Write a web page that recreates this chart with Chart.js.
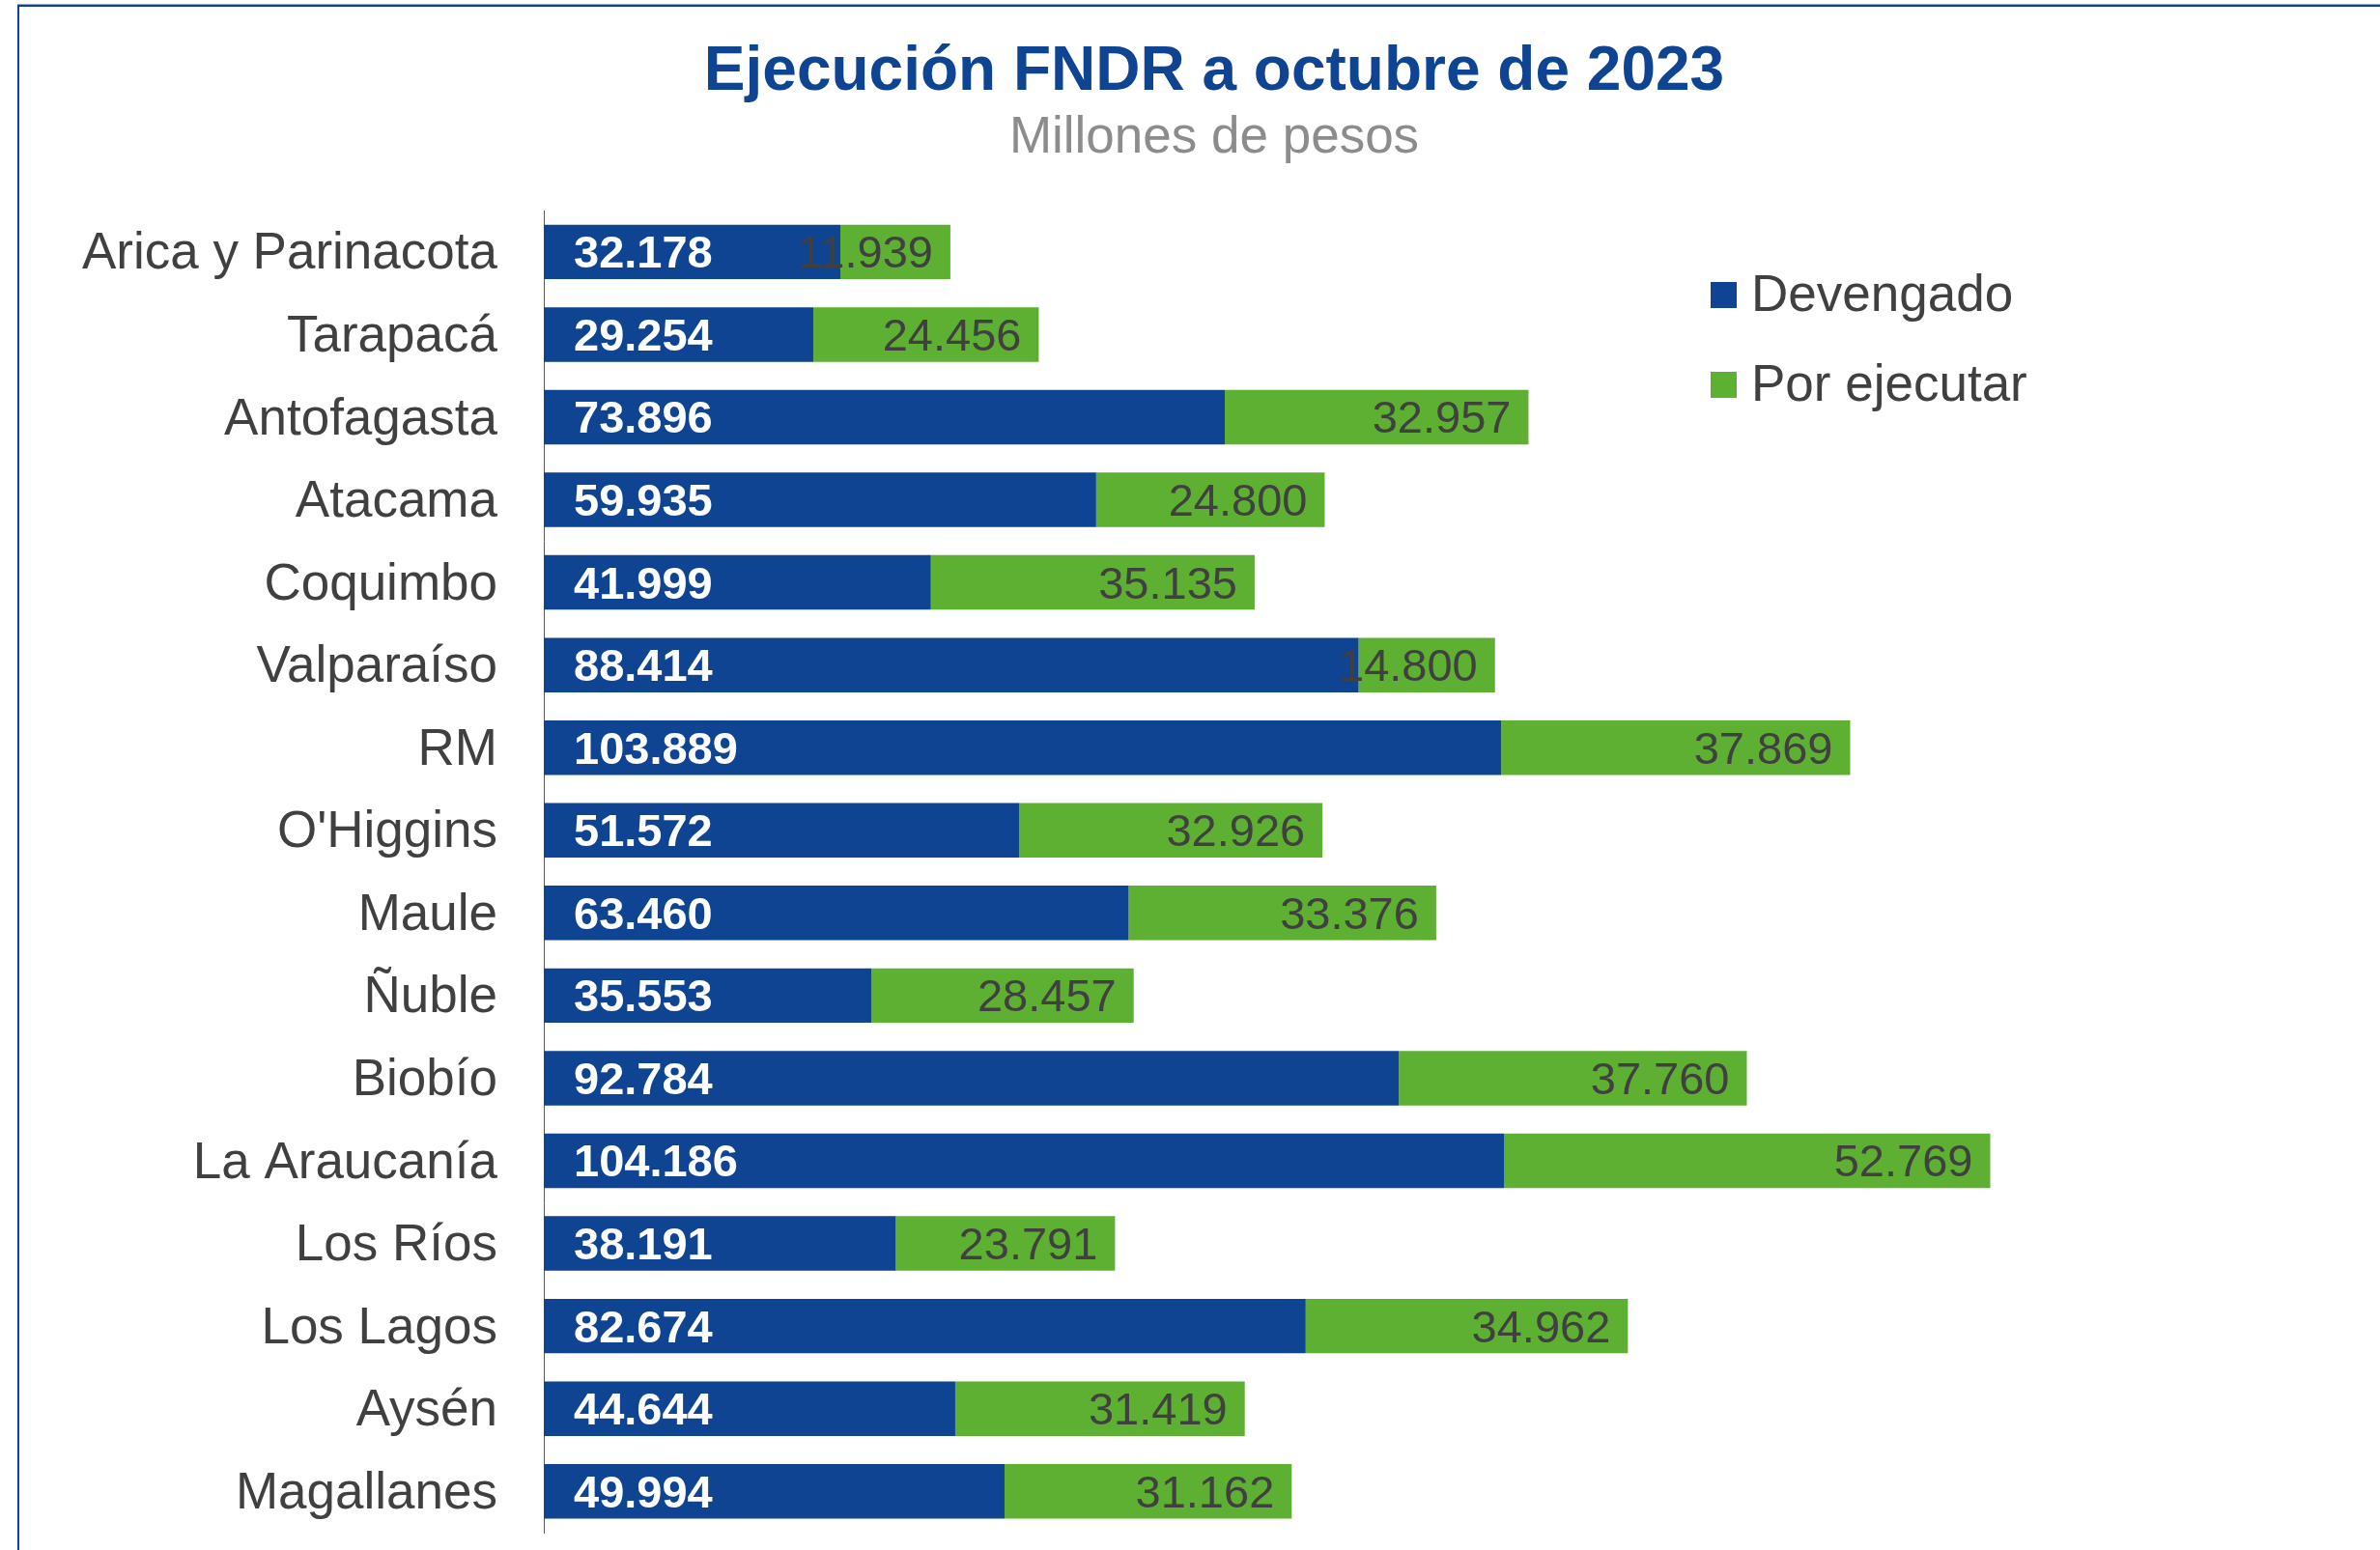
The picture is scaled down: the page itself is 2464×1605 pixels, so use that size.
<!DOCTYPE html>
<html lang="es">

<head>
    <meta charset="UTF-8">
    <title>Ejecución FNDR a octubre de 2023</title>
    <script src="https://cdnjs.cloudflare.com/ajax/libs/Chart.js/4.4.1/chart.umd.min.js"></script>
    <style>
        html, body { margin: 0; padding: 0; background: #fff; overflow: hidden; }
        #frame {
            position: absolute; left: 18px; top: 5px; width: 2600px; height: 1700px;
            border-top: 2px solid #0E4491; border-left: 2px solid #0E4491;
            box-shadow: 0 -1px 0 #8FA7D1;
        }
        #fndrChart { position: absolute; left: 0; top: 0; }
    </style>
</head>

<body>
    <div id="frame"></div>
    <canvas id="fndrChart" width="2464" height="1605"></canvas>

    <script>
        const regiones = ['Arica y Parinacota', 'Tarapacá', 'Antofagasta', 'Atacama', 'Coquimbo', 'Valparaíso', 'RM',
            "O'Higgins", 'Maule', 'Ñuble', 'Biobío', 'La Araucanía', 'Los Ríos', 'Los Lagos', 'Aysén', 'Magallanes'];
        const devengado = [32178, 29254, 73896, 59935, 41999, 88414, 103889, 51572, 63460, 35553, 92784, 104186, 38191, 82674, 44644, 49994];
        const porEjecutar = [11939, 24456, 32957, 24800, 35135, 14800, 37869, 32926, 33376, 28457, 37760, 52769, 23791, 34962, 31419, 31162];

        const AZUL = '#0E4491';
        const VERDE = '#5EB032';
        const GRIS = '#404040';
        const FAMILIA = '"Liberation Sans", Arial, sans-serif';

        // miles con punto: 32178 -> 32.178
        function fmt(v) {
            return String(v).replace(/\B(?=(\d{3})+(?!\d))/g, '.');
        }

        // etiquetas de valor sobre cada barra
        const barLabels = {
            id: 'barLabels',
            afterDatasetsDraw(chart) {
                const ctx = chart.ctx;
                ctx.save();
                chart.data.datasets.forEach((ds, i) => {
                    const meta = chart.getDatasetMeta(i);
                    meta.data.forEach((bar, j) => {
                        const y = bar.y + 16.5;
                        if (i === 0) {
                            ctx.font = 'bold 47px ' + FAMILIA;
                            ctx.fillStyle = '#fff';
                            ctx.textAlign = 'left';
                            ctx.fillText(fmt(ds.data[j]), bar.base + 31, y);
                        } else {
                            ctx.font = '47px ' + FAMILIA;
                            ctx.fillStyle = GRIS;
                            ctx.textAlign = 'right';
                            ctx.fillText(fmt(ds.data[j]), bar.x - 18, y);
                        }
                    });
                });
                ctx.restore();
            }
        };

        // leyenda dentro del área del gráfico, arriba a la derecha
        const sideLegend = {
            id: 'sideLegend',
            afterDraw(chart) {
                const ctx = chart.ctx;
                ctx.save();
                ctx.font = '53px ' + FAMILIA;
                ctx.textAlign = 'left';
                chart.data.datasets.forEach((ds, i) => {
                    const top = 292 + i * 93;
                    ctx.fillStyle = ds.backgroundColor;
                    ctx.fillRect(1771, top, 27, 27);
                    ctx.fillStyle = GRIS;
                    ctx.fillText(ds.label, 1813, top + 30);
                });
                ctx.restore();
            }
        };

        const ctx = document.getElementById('fndrChart').getContext('2d');
        new Chart(ctx, {
            type: 'bar',
            data: {
                labels: regiones,
                datasets: [
                    { label: 'Devengado', data: devengado, backgroundColor: AZUL },
                    { label: 'Por ejecutar', data: porEjecutar, backgroundColor: VERDE }
                ]
            },
            options: {
                indexAxis: 'y',
                responsive: false,
                animation: false,
                datasets: {
                    bar: { barPercentage: 0.66, categoryPercentage: 1.0, borderWidth: 0 }
                },
                layout: { padding: { left: 50, right: 0, top: 0, bottom: 18 } },
                scales: {
                    x: { stacked: true, min: 0, max: 199250, display: false },
                    y: {
                        stacked: true,
                        grid: { display: false, drawTicks: false },
                        border: { display: true, color: '#595959', width: 1 },
                        ticks: {
                            autoSkip: false,
                            padding: 48,
                            labelOffset: 3,
                            color: GRIS,
                            font: { family: FAMILIA, size: 53 }
                        },
                        afterFit(scale) {
                            // ancho fijo del eje y sin relleno extra arriba/abajo
                            scale.width = 513;
                            scale.paddingTop = 0;
                            scale.paddingBottom = 0;
                        }
                    }
                },
                plugins: {
                    legend: { display: false },
                    tooltip: { enabled: false },
                    title: {
                        display: true,
                        text: 'Ejecución FNDR a octubre de 2023',
                        color: AZUL,
                        font: { family: FAMILIA, size: 64, weight: 'bold', lineHeight: 1.2 },
                        padding: { top: 37, bottom: 0 }
                    },
                    subtitle: {
                        display: true,
                        text: 'Millones de pesos',
                        color: '#8C8C8C',
                        font: { family: FAMILIA, size: 53, lineHeight: 1.1 },
                        padding: { top: 0, bottom: 46 }
                    }
                }
            },
            plugins: [barLabels, sideLegend]
        });
    </script>
</body>

</html>
